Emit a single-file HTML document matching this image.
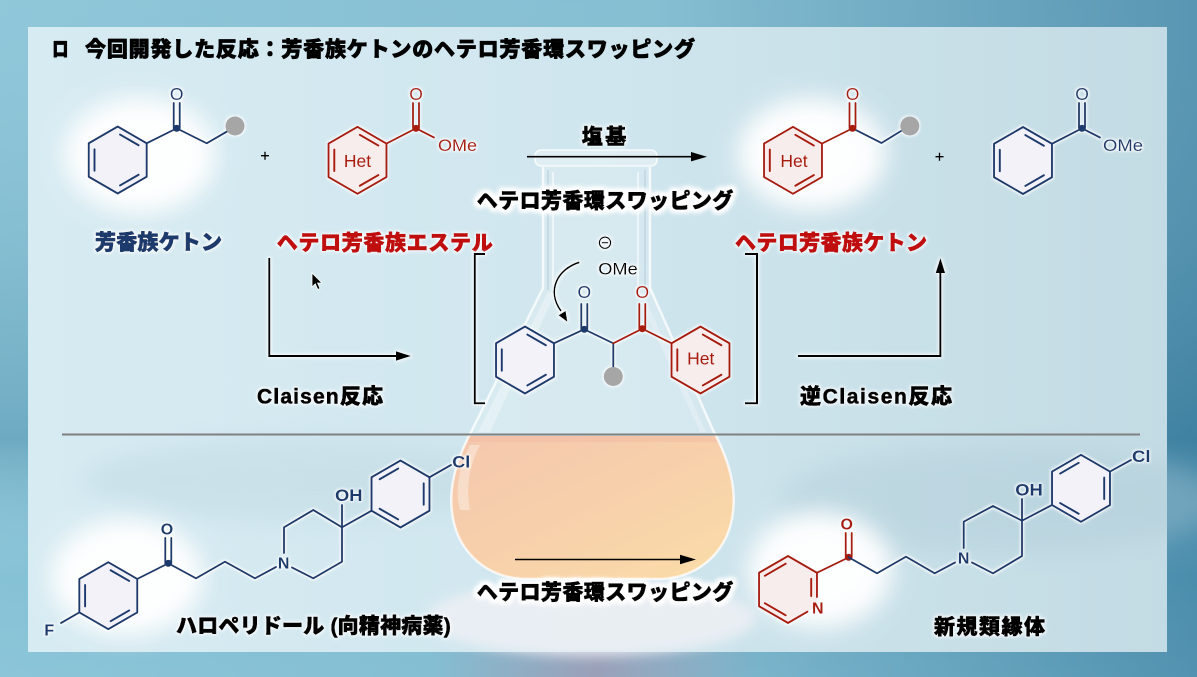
<!DOCTYPE html>
<html><head><meta charset="utf-8">
<style>
html,body{margin:0;padding:0;width:1197px;height:677px;overflow:hidden;background:#7fbcd1}
svg{display:block}
.jp{font-family:"Liberation Sans","Noto Sans CJK JP",sans-serif;font-weight:900;stroke-width:0.7;stroke-linejoin:round}
.lab{font-family:"Liberation Sans",sans-serif}
</style></head><body>
<svg width="1197" height="677" viewBox="0 0 1197 677" xmlns="http://www.w3.org/2000/svg">
<defs>
 <linearGradient id="bg" x1="0" y1="0" x2="1" y2="0">
  <stop offset="0" stop-color="#86c2d6"/>
  <stop offset="0.55" stop-color="#7bb8ce"/>
  <stop offset="1" stop-color="#4a8dac"/>
 </linearGradient>
 <linearGradient id="bgv" x1="0" y1="0" x2="0" y2="1">
  <stop offset="0" stop-color="#ffffff" stop-opacity="0.08"/>
  <stop offset="0.65" stop-color="#17577a" stop-opacity="0.22"/>
  <stop offset="0.85" stop-color="#ffffff" stop-opacity="0.0"/>
  <stop offset="1" stop-color="#ffffff" stop-opacity="0.05"/>
 </linearGradient>
 <linearGradient id="panel" x1="0" y1="0" x2="1" y2="0">
  <stop offset="0" stop-color="#d7ebf2"/>
  <stop offset="0.5" stop-color="#d0e6ee"/>
  <stop offset="1" stop-color="#c3dbe4"/>
 </linearGradient>
 <linearGradient id="strip" x1="0" y1="0" x2="1" y2="0">
  <stop offset="0" stop-color="#9aa0b8" stop-opacity="0"/>
  <stop offset="0.5" stop-color="#9aa0b8" stop-opacity="1"/>
  <stop offset="1" stop-color="#9aa0b8" stop-opacity="0"/>
 </linearGradient>
 <linearGradient id="liq" x1="0" y1="0" x2="1" y2="1">
  <stop offset="0" stop-color="#f4c7ae"/>
  <stop offset="0.6" stop-color="#f8d3aa"/>
  <stop offset="1" stop-color="#fcdea8"/>
 </linearGradient>
 <filter id="blur12" x="-50%" y="-50%" width="200%" height="200%"><feGaussianBlur stdDeviation="12"/></filter>
 <filter id="blur6" x="-50%" y="-50%" width="200%" height="200%"><feGaussianBlur stdDeviation="6"/></filter>
 <filter id="mh" x="-10%" y="-10%" width="120%" height="120%">
  <feMorphology in="SourceAlpha" operator="dilate" radius="1.2" result="d"/>
  <feGaussianBlur in="d" stdDeviation="1.4" result="b"/>
  <feFlood flood-color="#ffffff" flood-opacity="0.85"/>
  <feComposite in2="b" operator="in" result="w"/>
  <feMerge><feMergeNode in="w"/><feMergeNode in="SourceGraphic"/></feMerge>
 </filter>
 <filter id="th" x="-10%" y="-40%" width="120%" height="180%">
  <feMorphology in="SourceAlpha" operator="dilate" radius="2.5" result="d"/>
  <feGaussianBlur in="d" stdDeviation="2.5" result="b"/>
  <feFlood flood-color="#ffffff"/>
  <feComposite in2="b" operator="in" result="w"/>
  <feMerge><feMergeNode in="w"/><feMergeNode in="w"/><feMergeNode in="SourceGraphic"/></feMerge>
 </filter>
 <filter id="ts" x="-10%" y="-40%" width="120%" height="180%">
  <feMorphology in="SourceAlpha" operator="dilate" radius="1" result="d"/>
  <feGaussianBlur in="d" stdDeviation="1.5" result="b"/>
  <feFlood flood-color="#ffffff" flood-opacity="0.9"/>
  <feComposite in2="b" operator="in" result="w"/>
  <feMerge><feMergeNode in="w"/><feMergeNode in="SourceGraphic"/></feMerge>
 </filter>
 <path id="rA" d="M0,-33.5 L29,-16.75 L29,16.75 L0,33.5 L-29,16.75 L-29,-16.75 Z M-23.2,10.7 L-23.2,-10.7 M2.32,-25.46 L20.88,-14.74 M20.88,14.74 L2.32,25.46"/>
 <path id="rB" d="M0,-33.5 L29,-16.75 L29,16.75 L0,33.5 L-29,16.75 L-29,-16.75 Z M-20.88,-14.74 L-2.32,-25.46 M23.2,-10.7 L23.2,10.7 M-2.32,25.46 L-20.88,14.74"/>
 <clipPath id="body"><path d="M543,167 L543,288 L472,430 C455,462 449,488 452,512 C456,548 482,576 522,579 L663,579 C703,576 729,548 733,512 C736,488 730,462 713,430 L650,288 L650,167 Z"/></clipPath>
</defs>

<!-- background -->
<rect x="0" y="0" width="1197" height="677" fill="url(#bg)"/>
<rect x="0" y="0" width="1197" height="677" fill="url(#bgv)"/>
<rect x="430" y="652" width="330" height="25" fill="url(#strip)"/>
<!-- panel -->
<rect x="28" y="27" width="1139" height="625" fill="url(#panel)"/>
<ellipse cx="1000" cy="500" rx="220" ry="55" fill="#a9c8d5" opacity="0.35" filter="url(#blur12)"/>
<ellipse cx="300" cy="480" rx="220" ry="40" fill="#b8d3de" opacity="0.35" filter="url(#blur12)"/>

<!-- glows -->
<ellipse cx="140" cy="155" rx="76" ry="58" fill="#ffffff" opacity="0.97" filter="url(#blur12)"/>
<ellipse cx="812" cy="154" rx="74" ry="56" fill="#ffffff" opacity="0.97" filter="url(#blur12)"/>
<ellipse cx="127" cy="577" rx="76" ry="58" fill="#ffffff" opacity="0.97" filter="url(#blur12)"/>
<ellipse cx="820" cy="570" rx="72" ry="58" fill="#ffffff" opacity="0.97" filter="url(#blur12)"/>

<!-- flask reflection below -->
<ellipse cx="592" cy="618" rx="165" ry="38" fill="#eef0f5" opacity="0.85" filter="url(#blur6)"/>

<!-- flask -->
<path d="M543,167 L543,288 L472,430 C455,462 449,488 452,512 C456,548 482,576 522,579 L663,579 C703,576 729,548 733,512 C736,488 730,462 713,430 L650,288 L650,167 Z" fill="#ffffff" fill-opacity="0.16"/>
<g clip-path="url(#body)">
 <rect x="440" y="436" width="310" height="150" fill="url(#liq)"/>
 <rect x="440" y="436" width="310" height="6" fill="#f3bca4" opacity="0.55"/>
 <path d="M470,445 C458,470 455,492 460,510 L470,510 C466,490 468,468 480,445 Z" fill="#ffffff" opacity="0.35"/>
 <path d="M548,292 L478,432 L490,432 L556,292 Z" fill="#ffffff" opacity="0.3"/>
 <path d="M636,292 L700,432 L706,432 L642,292 Z" fill="#ffffff" opacity="0.25"/>
</g>
<path d="M543,167 L543,288 L472,430 C455,462 449,488 452,512 C456,548 482,576 522,579 L663,579 C703,576 729,548 733,512 C736,488 730,462 713,430 L650,288 L650,167" fill="none" stroke="#ffffff" stroke-opacity="0.75" stroke-width="2.5"/>
<path d="M548,170 L548,290 M645,170 L645,290" fill="none" stroke="#9fbccb" stroke-opacity="0.45" stroke-width="1.5"/>
<path d="M553,172 L553,285 M638,172 L638,285" fill="none" stroke="#ffffff" stroke-opacity="0.55" stroke-width="2"/>
<rect x="535" y="150" width="122" height="16" rx="6" fill="#ffffff" fill-opacity="0.35" stroke="#ffffff" stroke-opacity="0.8" stroke-width="1.5"/>

<!-- separator -->
<line x1="62" y1="434.5" x2="1140" y2="434.5" stroke="#808080" stroke-width="2"/>

<!-- title -->
<text class="jp" x="52" y="56.5" font-size="21" fill="#000" stroke="#000" textLength="16.6" lengthAdjust="spacingAndGlyphs">ロ</text>
<text class="jp" x="85" y="56.5" font-size="21" fill="#000" stroke="#000" textLength="610">今回開発した反応：芳香族ケトンのヘテロ芳香環スワッピング</text>

<!-- Molecule 1: aryl ketone -->
<g filter="url(#mh)" stroke="#1f3a6c" stroke-width="1.9" fill="none" stroke-linecap="round" stroke-linejoin="round">
 <use href="#rA" x="117.7" y="160" fill="#f3f2f9"/>
 <path d="M146.7,143.25 L176.7,128.3 L206.7,143.3 L227,131.5"/>
 <path d="M173.7,128.3 L173.7,103 M179.7,128.3 L179.7,103"/>
 <circle cx="176.7" cy="128.3" r="3.6" fill="#1f3a6c" stroke="none"/>
 <circle cx="235" cy="126" r="9.5" fill="#a6a6a6" stroke="none"/>
 <text class="lab" x="176.7" y="99.8" font-size="17.5" fill="#1f3a6c" stroke="none" text-anchor="middle">O</text>
</g>
<path d="M261,155.7 H269 M265,151.7 V159.7" stroke="#000" stroke-width="1.3"/>

<!-- Molecule 2: het ester -->
<g filter="url(#mh)" stroke="#a81c10" stroke-width="1.9" fill="none" stroke-linecap="round" stroke-linejoin="round">
 <use href="#rA" x="357.5" y="160.3" fill="#f8eded"/>
 <path d="M386.5,143.55 L416,128.3 L434,137.5"/>
 <path d="M413,128.3 L413,103 M419,128.3 L419,103"/>
 <circle cx="416" cy="128.3" r="3.6" fill="#a81c10" stroke="none"/>
 <text class="lab" x="416" y="99.8" font-size="17.5" fill="#a81c10" stroke="none" text-anchor="middle">O</text>
 <text class="lab" x="438" y="151" font-size="17" fill="#a81c10" stroke="none" textLength="39" lengthAdjust="spacingAndGlyphs">OMe</text>
 <text class="lab" x="357.5" y="167" font-size="17.5" fill="#a81c10" stroke="none" text-anchor="middle">Het</text>
</g>

<!-- top reaction arrow -->
<line x1="527" y1="156.7" x2="694" y2="156.7" stroke="#000" stroke-width="1.6"/>
<polygon points="707,156.7 691,152 691,161.4" fill="#000"/>
<text class="jp" x="581.7" y="144" font-size="21" fill="#000" stroke="#000" textLength="44.5" filter="url(#ts)">塩基</text>
<text class="jp" x="476.7" y="208" font-size="21" fill="#000" stroke="#000" textLength="256.6" filter="url(#th)">ヘテロ芳香環スワッピング</text>

<!-- Molecule 3: het ketone product -->
<g filter="url(#mh)" stroke-width="1.9" fill="none" stroke-linecap="round" stroke-linejoin="round">
 <use href="#rA" x="793" y="160.3" fill="#f8eded" stroke="#a81c10"/>
 <path d="M822,143.55 L852.5,128.3" stroke="#a81c10"/>
 <path d="M849.5,128.3 L849.5,103 M855.5,128.3 L855.5,103" stroke="#a81c10"/>
 <path d="M852.5,128.3 L881.5,143 L901,131" stroke="#1f3a6c"/>
 <circle cx="852.5" cy="128.3" r="3.6" fill="#a81c10"/>
 <circle cx="909.8" cy="126" r="9.5" fill="#a6a6a6"/>
 <text class="lab" x="852.5" y="99.8" font-size="17.5" fill="#a81c10" text-anchor="middle">O</text>
 <text class="lab" x="794" y="167" font-size="17.5" fill="#a81c10" text-anchor="middle">Het</text>
</g>
<path d="M935.5,156.7 H943.5 M939.5,152.7 V160.7" stroke="#000" stroke-width="1.3"/>

<!-- Molecule 4: methyl benzoate -->
<g filter="url(#mh)" stroke="#1f3a6c" stroke-width="1.9" fill="none" stroke-linecap="round" stroke-linejoin="round">
 <use href="#rA" x="1023" y="160.5" fill="#f3f2f9"/>
 <path d="M1052,143.75 L1082,128.3 L1100,137.5"/>
 <path d="M1079,128.3 L1079,103 M1085,128.3 L1085,103"/>
 <circle cx="1082" cy="128.3" r="3.6" fill="#1f3a6c" stroke="none"/>
 <text class="lab" x="1082" y="99.8" font-size="17.5" fill="#1f3a6c" stroke="none" text-anchor="middle">O</text>
 <text class="lab" x="1103" y="151" font-size="17" fill="#1f3a6c" stroke="none" textLength="40" lengthAdjust="spacingAndGlyphs">OMe</text>
</g>

<!-- labels row -->
<text class="jp" x="95" y="249.5" font-size="21" fill="#1f3a6c" stroke="#1f3a6c" textLength="127" filter="url(#ts)">芳香族ケトン</text>
<text class="jp" x="276.7" y="250" font-size="21" fill="#c00a0a" stroke="#c00a0a" textLength="216" filter="url(#ts)">ヘテロ芳香族エステル</text>
<text class="jp" x="735" y="250" font-size="21" fill="#c00a0a" stroke="#c00a0a" textLength="192" filter="url(#ts)">ヘテロ芳香族ケトン</text>

<!-- L arrows -->
<g filter="url(#ts)">
<path d="M269.3,258 L269.3,356 L398,356" fill="none" stroke="#000" stroke-width="2"/>
<polygon points="411,356 396,351.3 396,360.7" fill="#000"/>
<path d="M798,356 L940.4,356 L940.4,271" fill="none" stroke="#000" stroke-width="2"/>
<polygon points="940.4,258 935.7,273 945.1,273" fill="#000"/>
<!-- brackets -->
<path d="M485,254 L474.8,254 L474.8,403.3 L485,403.3" fill="none" stroke="#000" stroke-width="2"/>
<path d="M745,254 L757,254 L757,403.3 L745,403.3" fill="none" stroke="#000" stroke-width="2"/>
</g>

<!-- cursor -->
<polygon points="312,273 312,287 315.3,283.8 317.8,289.5 320,288.5 317.6,283 322,283" fill="#000" stroke="#fff" stroke-width="0.8"/>

<text class="jp" x="257" y="403.5" font-size="21" fill="#000" stroke="#000" textLength="126" filter="url(#ts)">Claisen反応</text>
<text class="jp" x="800" y="403.5" font-size="21" fill="#000" stroke="#000" textLength="152" filter="url(#ts)">逆Claisen反応</text>

<!-- Intermediate -->
<g filter="url(#mh)" stroke-width="1.9" fill="none" stroke-linecap="round" stroke-linejoin="round">
 <use href="#rA" x="525" y="360" fill="#f3f2f9" stroke="#1f3a6c"/>
 <path d="M554,343.25 L584.3,329.3 L613.3,343.3 L613.3,367" stroke="#1f3a6c"/>
 <path d="M581.3,329.3 L581.3,304 M587.3,329.3 L587.3,304" stroke="#1f3a6c"/>
 <path d="M613.3,343.3 L642.3,328.7 L671.5,343.25" stroke="#a81c10"/>
 <path d="M639.3,328.7 L639.3,304 M645.3,328.7 L645.3,304" stroke="#a81c10"/>
 <use href="#rA" x="700.5" y="360" fill="#f8eded" stroke="#a81c10"/>
 <circle cx="584.3" cy="329.3" r="3.6" fill="#1f3a6c"/>
 <circle cx="642.3" cy="328.7" r="3.6" fill="#a81c10"/>
 <circle cx="613.3" cy="376.5" r="9.5" fill="#a6a6a6"/>
 <text class="lab" x="584.3" y="298" font-size="17.5" fill="#1f3a6c" text-anchor="middle">O</text>
 <text class="lab" x="642.3" y="298" font-size="17.5" fill="#a81c10" text-anchor="middle">O</text>
 <text class="lab" x="700.7" y="364.5" font-size="17.5" fill="#a81c10" text-anchor="middle">Het</text>
</g>
<g filter="url(#ts)">
 <circle cx="605" cy="242.7" r="5.6" fill="none" stroke="#000" stroke-width="1.2"/>
 <line x1="601.8" y1="242.7" x2="608.2" y2="242.7" stroke="#000" stroke-width="1.2"/>
 <text class="lab" x="598.3" y="274.3" font-size="17" fill="#000" textLength="39.4" lengthAdjust="spacingAndGlyphs">OMe</text>
 <path d="M579.3,262.3 C558,269 546,290 561,311" fill="none" stroke="#000" stroke-width="1.6"/>
 <polygon points="567.3,321.7 558.6,315.2 565.6,311" fill="#000"/>
</g>

<!-- bottom arrow -->
<line x1="515" y1="559.5" x2="683" y2="559.5" stroke="#000" stroke-width="1.6"/>
<polygon points="696,559.5 680,554.8 680,564.2" fill="#000"/>
<text class="jp" x="476.7" y="599.5" font-size="21" fill="#000" stroke="#000" textLength="256.6" filter="url(#th)">ヘテロ芳香環スワッピング</text>

<!-- Haloperidol -->
<g filter="url(#mh)" stroke="#1f3a6c" stroke-width="1.9" fill="none" stroke-linecap="round" stroke-linejoin="round">
 <use href="#rA" x="108.3" y="595.7" fill="#f3f2f9"/>
 <path d="M79.3,612.45 L61,623"/>
 <path d="M137.3,578.95 L168.3,563.3 L196,578.3 L225,561.7 L255,578.3 L276,567"/>
 <path d="M165.3,563.3 L165.3,538 M171.3,563.3 L171.3,538"/>
 <circle cx="168.3" cy="563.3" r="3.6" fill="#1f3a6c" stroke="none"/>
 <path d="M284,553 L284,527.3 L313.3,510 L342,527.3 L342,561.7 L313.3,578.3 L292,567.5"/>
 <path d="M342,527.3 L342,505 M342,527.3 L371.5,510.75"/>
 <use href="#rB" x="400.5" y="494" fill="#f3f2f9"/>
 <path d="M429.5,477.25 L451,465"/>
 <g stroke="none" fill="#1f3a6c" class="lab" font-weight="bold">
  <text x="167" y="534.5" font-size="16" text-anchor="middle">O</text>
  <text x="283.7" y="568.7" font-size="16" text-anchor="middle">N</text>
  <text x="335" y="501" font-size="17" textLength="27.5" lengthAdjust="spacingAndGlyphs">OH</text>
  <text x="452.3" y="467.7" font-size="16.5" textLength="18" lengthAdjust="spacingAndGlyphs">Cl</text>
  <text x="49.3" y="635.3" font-size="16" text-anchor="middle">F</text>
 </g>
</g>
<text class="jp" x="176" y="633" font-size="21" fill="#000" stroke="#000" textLength="274.7" filter="url(#ts)">ハロペリドール (向精神病薬)</text>

<!-- New analogue -->
<g filter="url(#mh)" stroke-width="1.9" fill="none" stroke-linecap="round" stroke-linejoin="round">
 <path d="M788,556 L817,572.75 L817,606.25 L788,623 L759,606.25 L759,572.75 Z" fill="#f8eded" stroke="none"/>
 <path d="M807.5,611.7 L788,623 L759,606.25 L759,572.75 L788,556 L817,572.75 L817,597" stroke="#a81c10"/>
 <path d="M764.8,575.8 L785.7,563.7 M811.2,578.8 L811.2,596 M785.7,615.3 L764.8,603.2" stroke="#a81c10"/>
 <path d="M817,572.75 L848.7,557.3" stroke="#a81c10"/>
 <path d="M845.7,557.3 L845.7,533 M851.7,557.3 L851.7,533" stroke="#a81c10"/>
 <circle cx="848.7" cy="557.3" r="3.6" fill="#a81c10"/>
 <g stroke="#1f3a6c">
  <path d="M848.7,557.3 L877,573.3 L906,556.7 L934.7,573.3 L955,562.5"/>
  <path d="M963.7,548 L963.7,521.7 L993,506 L1022,520.7 L1022,556 L993,573.3 L972,562.5"/>
  <path d="M1022,520.7 L1022,499 M1022,520.7 L1052,505"/>
  <use href="#rB" x="1081" y="488.3" fill="#f3f2f9"/>
  <path d="M1110,471.55 L1131,460"/>
 </g>
 <g stroke="none" class="lab" font-weight="bold">
  <text x="846.7" y="529.7" font-size="16" text-anchor="middle" fill="#a81c10">O</text>
  <text x="817.8" y="613.7" font-size="16" text-anchor="middle" fill="#a81c10">N</text>
  <text x="963.7" y="563.7" font-size="16" text-anchor="middle" fill="#1f3a6c">N</text>
  <text x="1015.3" y="495.3" font-size="17" textLength="27.5" lengthAdjust="spacingAndGlyphs" fill="#1f3a6c">OH</text>
  <text x="1132" y="462" font-size="16.5" textLength="18.5" lengthAdjust="spacingAndGlyphs" fill="#1f3a6c">Cl</text>
 </g>
</g>
<text class="jp" x="934" y="634" font-size="21" fill="#000" stroke="#000" textLength="111" filter="url(#ts)">新規類縁体</text>
</svg>
</body></html>
